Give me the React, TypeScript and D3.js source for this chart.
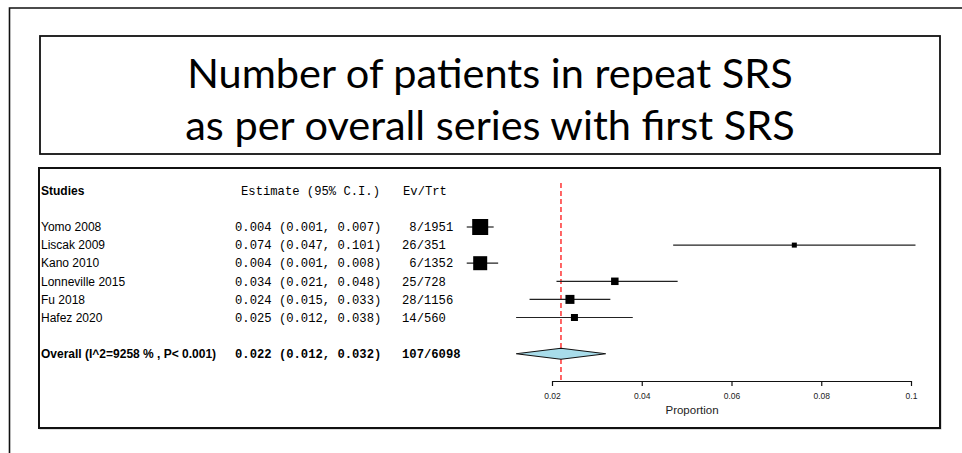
import React, { useEffect, useRef } from 'react';
import * as d3 from 'd3';

// study level data
const studies = ['Yomo 2008', 'Liscak 2009', 'Kano 2010', 'Lonneville 2015', 'Fu 2018', 'Hafez 2020'];
const estimates = [0.004, 0.074, 0.004, 0.034, 0.024, 0.025];
const lower = [0.001, 0.047, 0.001, 0.021, 0.015, 0.012];
const upper = [0.007, 0.101, 0.008, 0.048, 0.033, 0.038];
const weights = [25.6, 2.5, 19.6, 5.6, 8.1, 4.9];
const evTrt = [' 8/1951', '26/351', ' 6/1352', '25/728', '28/1156', '14/560'];

const overallLabel = 'Overall (I^2=9258 % , P< 0.001)';
const overallEst = 0.022;
const overallLo = 0.012;
const overallHi = 0.032;
const overallEvTrt = '107/6098';

const ticks = [0.02, 0.04, 0.06, 0.08, 0.1];
const titleLines = ['Number of patients in repeat SRS', 'as per overall series with first SRS'];

const W = 962;
const H = 453;
const sans = '"Liberation Sans", Arial, sans-serif';
const mono = '"Liberation Mono", "Courier New", monospace';

const x = d3.scaleLinear().domain([0.02, 0.1]).range([552, 911]);
const y = d3.scaleLinear().domain([-2, 7]).range([190.8, 353.7]);
const size = d3.scaleSqrt().domain([0, d3.max(weights) as number]).range([0, 16]);
const f3 = d3.format('.3f');
const ci = (e: number, l: number, h: number) => `${f3(e)} (${f3(l)}, ${f3(h)})`;

const AXIS_Y = 381;

const App: React.FC = () => {
  const axisRef = useRef<SVGGElement>(null);

  useEffect(() => {
    const g = d3.select(axisRef.current);
    g.call(
      d3
        .axisBottom(x)
        .tickValues(ticks)
        .tickFormat(d3.format('') as any)
        .tickSize(5)
        .tickSizeOuter(0)
        .tickPadding(7)
    );
    g.attr('font-family', sans).attr('font-size', 8.5);
    g.selectAll('path, line').attr('stroke', '#111').attr('stroke-width', 1.2);
    g.selectAll('text').attr('fill', '#222');
  }, []);

  const diamond = d3.line()([
    [x(overallLo), y(7)],
    [x(overallEst), y(7) - 5.5],
    [x(overallHi), y(7)],
    [x(overallEst), y(7) + 5.5],
  ]) + 'Z';

  return (
    <svg width={W} height={H} style={{ position: 'absolute', left: 0, top: 0, background: '#fff' }}>
      {/* outer frame */}
      <path d={`M9.5,${H} V8 H${W}`} fill="none" stroke="#111" strokeWidth={1.6} />

      {/* title box */}
      <rect x={40} y={36} width={900} height={118} fill="#fff" stroke="#111" strokeWidth={1.8} />
      {titleLines.map((t, i) => (
        <text
          key={t}
          x={490}
          y={88 + i * 52}
          textAnchor="middle"
          fontFamily='Lato, "Open Sans", sans-serif'
          fontSize={41.5}
          fill="#000"
        >
          {t}
        </text>
      ))}

      {/* chart box */}
      <rect x={40} y={169} width={901} height={260} fill="none" stroke="#bbb" strokeWidth={1} />
      <rect x={39} y={168} width={901} height={260} fill="#fff" stroke="#111" strokeWidth={2} />

      {/* headers */}
      <g fontSize={12} fill="#000">
        <text x={41} y={y(-2)} dy="0.35em" fontFamily={sans} fontWeight="bold">Studies</text>
        <text x={241} y={y(-2)} dy="0.35em" fontFamily={mono} fontSize={12.2}>Estimate (95% C.I.)</text>
        <text x={403} y={y(-2)} dy="0.35em" fontFamily={mono} fontSize={12.2}>Ev/Trt</text>
      </g>

      {/* study rows */}
      <g fill="#000">
        {studies.map((s, i) => (
          <g key={s}>
            <text x={41} y={y(i)} dy="0.35em" fontFamily={sans} fontSize={12}>{s}</text>
            <text x={235} y={y(i)} dy="0.35em" fontFamily={mono} fontSize={12.2}>
              {ci(estimates[i], lower[i], upper[i])}
            </text>
            <text x={402} y={y(i)} dy="0.35em" fontFamily={mono} fontSize={12.2} style={{ whiteSpace: 'pre' }}>
              {evTrt[i]}
            </text>
          </g>
        ))}
        <text x={41} y={y(7)} dy="0.35em" fontFamily={sans} fontSize={12} fontWeight="bold">{overallLabel}</text>
        <text x={235} y={y(7)} dy="0.35em" fontFamily={mono} fontSize={12.2} fontWeight="bold">
          {ci(overallEst, overallLo, overallHi)}
        </text>
        <text x={402} y={y(7)} dy="0.35em" fontFamily={mono} fontSize={12.2} fontWeight="bold">{overallEvTrt}</text>
      </g>

      {/* reference line at the pooled estimate */}
      <line
        x1={x(overallEst)}
        x2={x(overallEst)}
        y1={183}
        y2={AXIS_Y + 2}
        stroke="#ff4040"
        strokeWidth={1.6}
        strokeDasharray="5,3"
      />

      {/* CIs and squares */}
      {studies.map((s, i) => {
        const sz = size(weights[i]);
        return (
          <g key={s}>
            <line x1={x(lower[i])} x2={x(upper[i])} y1={y(i)} y2={y(i)} stroke="#222" strokeWidth={1.2} />
            <rect x={x(estimates[i]) - sz / 2} y={y(i) - sz / 2} width={sz} height={sz} fill="#000" />
          </g>
        );
      })}

      <path d={diamond} fill="#a8dcea" stroke="#111" strokeWidth={1.1} />

      {/* axis */}
      <g ref={axisRef} transform={`translate(0,${AXIS_Y})`} />
      <text x={692} y={410} dy="0.35em" textAnchor="middle" fontFamily={sans} fontSize={11.5} fill="#222">
        Proportion
      </text>
    </svg>
  );
};

export default App;
